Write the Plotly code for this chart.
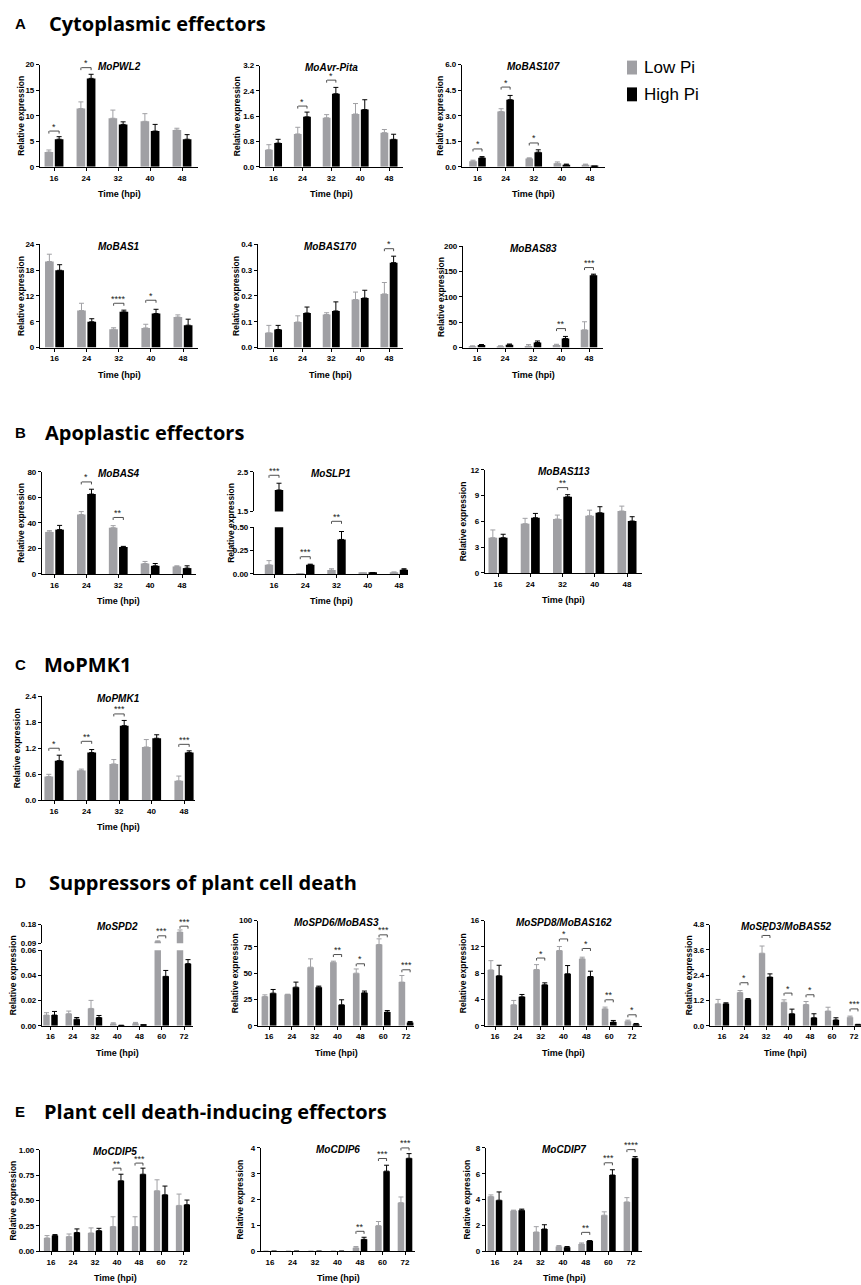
import plotly.graph_objects as go

W, H = 861, 1285
GRAY = "#a0a0a4"
BLACK = "#000000"
FONT = "Liberation Sans, Arial, Helvetica, sans-serif"
TFONT = "Open Sans, Liberation Sans, sans-serif"

TIMES5 = ["16", "24", "32", "40", "48"]
TIMES7 = ["16", "24", "32", "40", "48", "60", "72"]

# ---------------- data (mean, SEM up) ----------------
PWL2_LOW = [2.9, 11.4, 9.5, 8.9, 7.2]
PWL2_LOW_SE = [0.4, 1.3, 1.6, 1.5, 0.35]
PWL2_HIGH = [5.4, 17.3, 8.3, 7.0, 5.4]
PWL2_HIGH_SE = [0.5, 0.8, 0.5, 1.3, 0.9]
PWL2_SIG = [(0, "*", 7.0), (1, "*", 19.4)]
PWL2_YTICKS = [0, 5, 10, 15, 20]

AVR_LOW = [0.54, 1.04, 1.55, 1.67, 1.08]
AVR_LOW_SE = [0.16, 0.21, 0.10, 0.33, 0.10]
AVR_HIGH = [0.75, 1.58, 2.31, 1.81, 0.87]
AVR_HIGH_SE = [0.12, 0.15, 0.20, 0.31, 0.16]
AVR_SIG = [(1, "*", 1.92), (2, "*", 2.74)]
AVR_YTICKS = [0, 0.8, 1.6, 2.4, 3.2]

BAS107_LOW = [0.33, 3.25, 0.49, 0.21, 0.12]
BAS107_LOW_SE = [0.06, 0.16, 0.04, 0.08, 0.04]
BAS107_HIGH = [0.53, 3.94, 0.86, 0.12, 0.03]
BAS107_HIGH_SE = [0.07, 0.25, 0.14, 0.04, 0.01]
BAS107_SIG = [(0, "*", 1.05), (1, "*", 4.68), (2, "*", 1.4)]
BAS107_YTICKS = [0, 1.5, 3.0, 4.5, 6.0]

BAS1_LOW = [20.0, 8.6, 4.26, 4.57, 7.1]
BAS1_LOW_SE = [1.7, 1.7, 0.35, 0.85, 0.5]
BAS1_HIGH = [17.96, 6.0, 8.3, 7.9, 5.2]
BAS1_HIGH_SE = [1.3, 0.7, 0.4, 1.0, 1.4]
BAS1_SIG = [(2, "****", 10.3), (3, "*", 11.0)]
BAS1_YTICKS = [0, 6, 12, 18, 24]

BAS170_LOW = [0.057, 0.099, 0.128, 0.186, 0.208]
BAS170_LOW_SE = [0.029, 0.024, 0.007, 0.029, 0.044]
BAS170_HIGH = [0.070, 0.134, 0.142, 0.192, 0.329]
BAS170_HIGH_SE = [0.016, 0.023, 0.035, 0.030, 0.025]
BAS170_SIG = [(4, "*", 0.383)]
BAS170_YTICKS = [0, 0.1, 0.2, 0.3, 0.4]

BAS83_LOW = [2, 2.5, 3, 5, 35]
BAS83_LOW_SE = [1.5, 1, 3, 1.5, 16]
BAS83_HIGH = [5, 5.5, 10, 18, 143]
BAS83_HIGH_SE = [1, 1.5, 3, 4, 2]
BAS83_SIG = [(3, "**", 37.5), (4, "***", 158)]
BAS83_YTICKS = [0, 50, 100, 150, 200]

BAS4_LOW = [32.9, 46.5, 36.2, 8.2, 5.9]
BAS4_LOW_SE = [1.0, 2.3, 1.6, 1.6, 0.5]
BAS4_HIGH = [34.7, 62.5, 21.1, 6.4, 4.6]
BAS4_HIGH_SE = [3.3, 3.8, 0.5, 1.8, 1.8]
BAS4_SIG = [(1, "*", 72), (2, "**", 44.2)]
BAS4_YTICKS = [0, 20, 40, 60, 80]

SLP1_LOW = [0.098, 0.003, 0.042, 0.008, 0.017]
SLP1_LOW_SE = [0.045, 0.001, 0.014, 0.002, 0.005]
SLP1_HIGH = [2.04, 0.098, 0.37, 0.012, 0.045]
SLP1_HIGH_SE = [0.17, 0.007, 0.085, 0.004, 0.011]
SLP1_SIG = [(0, "***", 2.41), (1, "***", 0.185), (2, "**", 0.5, 6)]
SLP1_YTICKS = [0, 0.25, 0.5]
SLP1_YTICKS_UP = [1.5, 2.5]

BAS113_LOW = [4.1, 5.73, 6.27, 6.65, 7.2]
BAS113_LOW_SE = [0.9, 0.62, 0.46, 0.65, 0.57]
BAS113_HIGH = [4.1, 6.42, 8.85, 7.0, 6.04]
BAS113_HIGH_SE = [0.4, 0.5, 0.25, 0.7, 0.5]
BAS113_SIG = [(2, "**", 9.92)]
BAS113_YTICKS = [0, 3, 6, 9, 12]

PMK1_LOW = [0.55, 0.69, 0.84, 1.23, 0.45]
PMK1_LOW_SE = [0.05, 0.03, 0.10, 0.17, 0.11]
PMK1_HIGH = [0.915, 1.10, 1.72, 1.43, 1.10]
PMK1_HIGH_SE = [0.125, 0.07, 0.12, 0.08, 0.04]
PMK1_SIG = [(0, "*", 1.2), (1, "**", 1.36), (2, "***", 1.99), (4, "***", 1.29)]
PMK1_YTICKS = [0, 0.6, 1.2, 1.8, 2.4]

SPD2_LOW = [0.0085, 0.0096, 0.0138, 0.0016, 0.0019, 0.099, 0.144]
SPD2_LOW_SE = [0.0019, 0.0021, 0.0064, 0.0008, 0.0008, 0.003, 0.010]
SPD2_HIGH = [0.0085, 0.0053, 0.0066, 0.0003, 0.0005, 0.0393, 0.0494]
SPD2_HIGH_SE = [0.0029, 0.0013, 0.0016, 0.0001, 0.0002, 0.0047, 0.0032]
SPD2_SIG = [(5, "***", 0.126), (6, "***", 0.172)]
SPD2_YTICKS = [0, 0.02, 0.04, 0.06]
SPD2_YTICKS_UP = [0.09, 0.18]

SPD6_LOW = [27.8, 29.7, 55.7, 60.4, 50.0, 77.2, 41.5]
SPD6_LOW_SE = [1.6, 0.3, 7.9, 1.0, 4.0, 5.4, 6.3]
SPD6_HIGH = [31.0, 36.7, 36.7, 19.9, 31.3, 13.0, 3.2]
SPD6_HIGH_SE = [3.5, 4.8, 1.0, 4.8, 1.7, 1.5, 0.9]
SPD6_SIG = [(3, "**", 67.7), (4, "*", 58.9), (5, "***", 86.4), (6, "***", 53.2)]
SPD6_YTICKS = [0, 25, 50, 75, 100]

SPD8_LOW = [8.5, 3.2, 8.56, 11.44, 10.18, 2.58, 0.71]
SPD8_LOW_SE = [1.4, 0.65, 0.74, 0.61, 0.25, 0.26, 0.15]
SPD8_HIGH = [7.6, 4.4, 6.23, 7.9, 7.49, 0.56, 0.25]
SPD8_HIGH_SE = [1.6, 0.36, 0.30, 1.26, 0.81, 0.25, 0.10]
SPD8_SIG = [(2, "*", 10.3), (3, "*", 13.2), (4, "*", 11.75), (5, "**", 3.95), (6, "*", 1.67)]
SPD8_YTICKS = [0, 4, 8, 12, 16]

SPD3_LOW = [1.04, 1.58, 3.44, 1.12, 1.01, 0.70, 0.41]
SPD3_LOW_SE = [0.21, 0.09, 0.34, 0.11, 0.14, 0.18, 0.05]
SPD3_HIGH = [1.04, 1.25, 2.31, 0.57, 0.38, 0.28, 0.06]
SPD3_HIGH_SE = [0.05, 0.04, 0.15, 0.22, 0.19, 0.10, 0.01]
SPD3_SIG = [(1, "*", 2.04), (2, "*", 4.28), (3, "*", 1.55), (4, "*", 1.47), (6, "***", 0.8)]
SPD3_YTICKS = [0, 1.2, 2.4, 3.6, 4.8]

CDIP5_LOW = [0.131, 0.144, 0.18, 0.243, 0.243, 0.597, 0.452]
CDIP5_LOW_SE = [0.023, 0.026, 0.05, 0.097, 0.097, 0.108, 0.112]
CDIP5_HIGH = [0.154, 0.184, 0.203, 0.695, 0.76, 0.557, 0.459]
CDIP5_HIGH_SE = [0.01, 0.036, 0.023, 0.065, 0.06, 0.086, 0.046]
CDIP5_SIG = [(3, "**", 0.82), (4, "***", 0.87)]
CDIP5_YTICKS = [0, 0.25, 0.5, 0.75, 1.0]

CDIP6_LOW = [0, 0, 0, 0, 0.13, 0.99, 1.88]
CDIP6_LOW_SE = [0, 0, 0, 0, 0.05, 0.16, 0.22]
CDIP6_HIGH = [0, 0, 0, 0, 0.46, 3.10, 3.60]
CDIP6_HIGH_SE = [0, 0, 0, 0, 0.08, 0.23, 0.18]
CDIP6_SIG = [(4, "**", 0.77), (5, "***", 3.59), (6, "***", 4.0)]
CDIP6_YTICKS = [0, 1, 2, 3, 4]

CDIP7_LOW = [4.23, 3.13, 1.49, 0.36, 0.56, 2.79, 3.82]
CDIP7_LOW_SE = [0.13, 0.05, 0.41, 0.08, 0.08, 0.26, 0.33]
CDIP7_HIGH = [3.95, 3.18, 1.72, 0.31, 0.79, 5.90, 7.20]
CDIP7_HIGH_SE = [0.64, 0.08, 0.33, 0.05, 0.03, 0.41, 0.13]
CDIP7_SIG = [(4, "**", 1.46), (5, "***", 6.85), (6, "****", 7.87)]
CDIP7_YTICKS = [0, 2, 4, 6, 8]

SECTIONS = [("A", "Cytoplasmic effectors", 20, 47),
            ("B", "Apoplastic effectors", 432, 43),
            ("C", "MoPMK1", 665, 42),
            ("D", "Suppressors of plant cell death", 885, 47),
            ("E", "Plant cell death-inducing effectors", 1115, 42)]


def P(title, times, low, lowe, high, highe, sig, yt, fmt, px, py, ytx, upper=None):
    return dict(title=title, times=times, low=low, lowe=lowe, high=high, highe=highe,
                sig=sig, yt=yt, fmt=fmt, px=px, py=py, ytx=ytx, upper=upper)


PANELS = [
    P("MoPWL2", TIMES5, PWL2_LOW, PWL2_LOW_SE, PWL2_HIGH, PWL2_HIGH_SE, PWL2_SIG, PWL2_YTICKS, "d", (40, 54, 182, 198), (61, 164), -19),
    P("MoAvr-Pita", TIMES5, AVR_LOW, AVR_LOW_SE, AVR_HIGH, AVR_HIGH_SE, AVR_SIG, AVR_YTICKS, ".1f", (260, 273.5, 389, 403), (62, 164), -23),
    P("MoBAS107", TIMES5, BAS107_LOW, BAS107_LOW_SE, BAS107_HIGH, BAS107_HIGH_SE, BAS107_SIG, BAS107_YTICKS, ".1f", (462, 477.5, 590, 605), (61, 164), -22),
    P("MoBAS1", TIMES5, BAS1_LOW, BAS1_LOW_SE, BAS1_HIGH, BAS1_HIGH_SE, BAS1_SIG, BAS1_YTICKS, "d", (40, 54.5, 183, 198), (242, 346), -19),
    P("MoBAS170", TIMES5, BAS170_LOW, BAS170_LOW_SE, BAS170_HIGH, BAS170_HIGH_SE, BAS170_SIG, BAS170_YTICKS, ".1f", (258, 273.5, 389, 403), (242, 346), -22),
    P("MoBAS83", TIMES5, BAS83_LOW, BAS83_LOW_SE, BAS83_HIGH, BAS83_HIGH_SE, BAS83_SIG, BAS83_YTICKS, "d", (463, 477, 589, 603), (244, 346), -22),
    P("MoBAS4", TIMES5, BAS4_LOW, BAS4_LOW_SE, BAS4_HIGH, BAS4_HIGH_SE, BAS4_SIG, BAS4_YTICKS, "d", (42, 54.5, 182, 196), (471, 574), -21),
    P("MoSLP1", TIMES5, SLP1_LOW, SLP1_LOW_SE, SLP1_HIGH, SLP1_HIGH_SE, SLP1_SIG, SLP1_YTICKS, ".2f", (254, 274, 399, 408), (527, 574), -23,
      upper=dict(py=(471, 511), yt=SLP1_YTICKS_UP, fmt=".1f")),
    P("MoBAS113", TIMES5, BAS113_LOW, BAS113_LOW_SE, BAS113_HIGH, BAS113_HIGH_SE, BAS113_SIG, BAS113_YTICKS, "d", (485, 498, 627, 642), (469, 573), -22),
    P("MoPMK1", TIMES5, PMK1_LOW, PMK1_LOW_SE, PMK1_HIGH, PMK1_HIGH_SE, PMK1_SIG, PMK1_YTICKS, ".1f", (42, 54, 184, 195), (697, 802), -25),
    P("MoSPD2", TIMES7, SPD2_LOW, SPD2_LOW_SE, SPD2_HIGH, SPD2_HIGH_SE, SPD2_SIG, SPD2_YTICKS, ".2f", (42, 50.5, 184, 193), (953, 1029), -29,
      upper=dict(py=(927, 946), yt=SPD2_YTICKS_UP, fmt=".2f")),
    P("MoSPD6/MoBAS3", TIMES7, SPD6_LOW, SPD6_LOW_SE, SPD6_HIGH, SPD6_HIGH_SE, SPD6_SIG, SPD6_YTICKS, "d", (258, 269, 406, 414), (923, 1029), -23),
    P("MoSPD8/MoBAS162", TIMES7, SPD8_LOW, SPD8_LOW_SE, SPD8_HIGH, SPD8_HIGH_SE, SPD8_SIG, SPD8_YTICKS, "d", (485, 495, 632, 642), (923, 1029), -22),
    P("MoSPD3/MoBAS52", TIMES7, SPD3_LOW, SPD3_LOW_SE, SPD3_HIGH, SPD3_HIGH_SE, SPD3_SIG, SPD3_YTICKS, ".1f", (710, 722, 854, 861), (927, 1029), -21),
    P("MoCDIP5", TIMES7, CDIP5_LOW, CDIP5_LOW_SE, CDIP5_HIGH, CDIP5_HIGH_SE, CDIP5_SIG, CDIP5_YTICKS, ".2f", (40, 51, 183, 190), (1154, 1256), -27),
    P("MoCDIP6", TIMES7, CDIP6_LOW, CDIP6_LOW_SE, CDIP6_HIGH, CDIP6_HIGH_SE, CDIP6_SIG, CDIP6_YTICKS, "d", (261, 270, 405, 415), (1152, 1256), -21),
    P("MoCDIP7", TIMES7, CDIP7_LOW, CDIP7_LOW_SE, CDIP7_HIGH, CDIP7_HIGH_SE, CDIP7_SIG, CDIP7_YTICKS, "d", (486, 495, 631, 642), (1152, 1256), -19),
]

TICKFONT = dict(family=FONT, size=8, color=BLACK, weight="bold")
LINE = dict(showline=True, linecolor=BLACK, linewidth=1.2, ticks="outside", ticklen=3,
            tickwidth=1.1, tickcolor=BLACK, showgrid=False, zeroline=False,
            tickfont=TICKFONT, fixedrange=True)


def ref(prefix, k):
    return prefix if k == 1 else f"{prefix}{k}"


def key(prefix, k):
    return prefix + "axis" + ("" if k == 1 else str(k))


def py2paper(y):
    return 1 - y / H


fig = go.Figure()
layout = {}
annotations = []
shapes = []
extra_y = len(PANELS)

for idx, pn in enumerate(PANELS):
    k = idx + 1
    n = len(pn["times"])
    xname = ref("x", k)
    yname = ref("y", k)
    x0, c0, c1, x1 = pn["px"]
    s = (c1 - c0) / (n - 1)
    xr = [-(c0 - x0) / s, (n - 1) + (x1 - c1) / s]
    bw, bg = (0.27, 0.05) if n == 5 else (0.29, 0.07)

    layout[key("x", k)] = dict(domain=[x0 / W, x1 / W], range=xr, anchor=yname,
                               tickmode="array", tickvals=list(range(n)),
                               ticktext=pn["times"], **LINE)
    yt = pn["yt"]
    layout[key("y", k)] = dict(domain=[py2paper(pn["py"][1]), py2paper(pn["py"][0])],
                               range=[yt[0], yt[-1]], anchor=xname, tickmode="array",
                               tickvals=yt, tickformat=pn["fmt"], **LINE)
    yaxes = [yname]
    up_name = None
    top_py = pn["py"][0]
    if pn["upper"]:
        extra_y += 1
        up = pn["upper"]
        up_name = ref("y", extra_y)
        layout[key("y", extra_y)] = dict(domain=[py2paper(up["py"][1]), py2paper(up["py"][0])],
                                         range=[up["yt"][0], up["yt"][-1]], anchor=xname,
                                         tickmode="array", tickvals=up["yt"],
                                         tickformat=up["fmt"], **LINE)
        yaxes.append(up_name)
        top_py = up["py"][0]

    xs = list(range(n))
    for yn in yaxes:
        for vals, errs, col, off in ((pn["low"], pn["lowe"], GRAY, -bg / 2 - bw),
                                     (pn["high"], pn["highe"], BLACK, bg / 2)):
            fig.add_trace(go.Bar(
                x=xs, y=vals, width=bw, offset=off, xaxis=xname, yaxis=yn,
                marker=dict(color=col, line=dict(width=0)),
                error_y=dict(type="data", array=errs, arrayminus=[0] * n, symmetric=False,
                             color=col, thickness=1, width=2.5),
                showlegend=False, hoverinfo="skip"))

    half = bg / 2 + bw / 2
    for sg in pn["sig"]:
        i, stars, yv = sg[0], sg[1], sg[2]
        lift = sg[3] if len(sg) > 3 else 0
        yr = yname
        if up_name and yv >= pn["upper"]["yt"][0]:
            yr = up_name
        xl, xh = i - half, i + half
        common = dict(xref=xname, yref=yr, showarrow=True, arrowhead=0, arrowwidth=0.8,
                      arrowcolor="#222", text=" ", font=dict(size=1), borderpad=0,
                      standoff=0, startstandoff=0, yshift=lift)
        annotations.append(dict(x=xh, y=yv, ax=xl, ay=yv, axref=xname, ayref=yr, **common))
        for xe in (xl, xh):
            annotations.append(dict(x=xe, y=yv, ax=0, ay=3.5, **common))
        annotations.append(dict(x=i, y=yv, xref=xname, yref=yr, text=stars, showarrow=False,
                                yanchor="bottom", yshift=-2.5 + lift,
                                font=dict(family=FONT, size=9, color="#222")))

    annotations.append(dict(text=pn["title"], xref=f"{xname} domain", x=0.5,
                            yref="paper", y=py2paper(top_py), yshift=-2, yanchor="middle",
                            showarrow=False,
                            font=dict(family=FONT, size=10, color=BLACK, weight="bold",
                                      style="italic")))
    yc = py2paper((top_py + pn["py"][1]) / 2)
    annotations.append(dict(text="Relative expression", xref=f"{xname} domain", x=0,
                            xshift=pn["ytx"], yref="paper", y=yc, textangle=-90,
                            xanchor="center", yanchor="middle", showarrow=False,
                            font=dict(family=FONT, size=8.5, color=BLACK, weight="bold")))
    annotations.append(dict(text="Time (hpi)", xref=f"{xname} domain", x=0.5,
                            yref=f"{yname} domain", y=0, yshift=-27, yanchor="middle",
                            showarrow=False,
                            font=dict(family=FONT, size=9, color=BLACK, weight="bold")))

for letter, text, yc, xt in SECTIONS:
    annotations.append(dict(text=letter, xref="paper", yref="paper", x=13 / W, y=py2paper(yc),
                            xanchor="left", yanchor="middle", showarrow=False,
                            font=dict(family=FONT, size=15, color=BLACK, weight="bold")))
    annotations.append(dict(text=text, xref="paper", yref="paper", x=xt / W, y=py2paper(yc),
                            xanchor="left", yanchor="middle", showarrow=False,
                            font=dict(family=TFONT, size=20, color=BLACK, weight="bold")))

for label, col, yc in (("Low Pi", GRAY, 64), ("High Pi", BLACK, 91)):
    shapes.append(dict(type="rect", xref="paper", yref="paper", x0=627 / W, x1=637 / W,
                       y0=py2paper(yc + 7), y1=py2paper(yc - 7), fillcolor=col,
                       line=dict(width=0)))
    annotations.append(dict(text=label, xref="paper", yref="paper", x=642 / W, y=py2paper(yc),
                            xanchor="left", yanchor="middle", showarrow=False,
                            font=dict(family=FONT, size=17, color=BLACK)))

fig.update_layout(width=W, height=H, margin=dict(l=0, r=0, t=0, b=0),
                  paper_bgcolor="white", plot_bgcolor="white", barmode="overlay",
                  showlegend=False, annotations=annotations, shapes=shapes, **layout)

POST = ("document.body.style.margin='0px';document.body.style.padding='0px';"
        "document.body.style.overflow='hidden';"
        "var gd=document.getElementById('{plot_id}');"
        "gd.style.position='absolute';gd.style.left='0px';gd.style.top='0px';")
fig.write_html("out.html", post_script=POST, config={"displayModeBar": False})
